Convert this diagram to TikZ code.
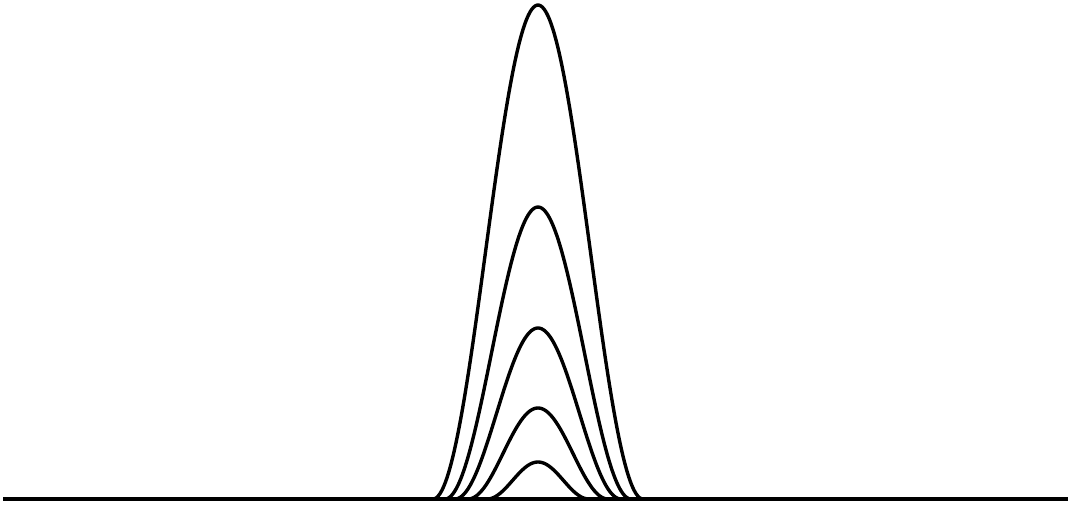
\documentclass[tikz,border=0pt]{standalone}
\begin{document}
\begin{tikzpicture}[x=1pt,y=-1pt,
  curve/.style={line width=3.4pt,line join=round,line cap=round},
  base/.style={line width=3.4pt}]
\useasboundingbox (0,0) rectangle (1071,506);
\coordinate (L) at (3,499);
\coordinate (R) at (1068,499);
\draw[base] (L) -- (R);
\foreach \h/\w in {494/105, 292/93, 171/83, 91/70, 37/51}{
  \draw[curve] plot[domain=-\w:\w,samples=120,smooth,variable=\t]
    ({538+\t},{499-\h*(cos(90*\t/\w))^2});
}
\end{tikzpicture}
\end{document}
